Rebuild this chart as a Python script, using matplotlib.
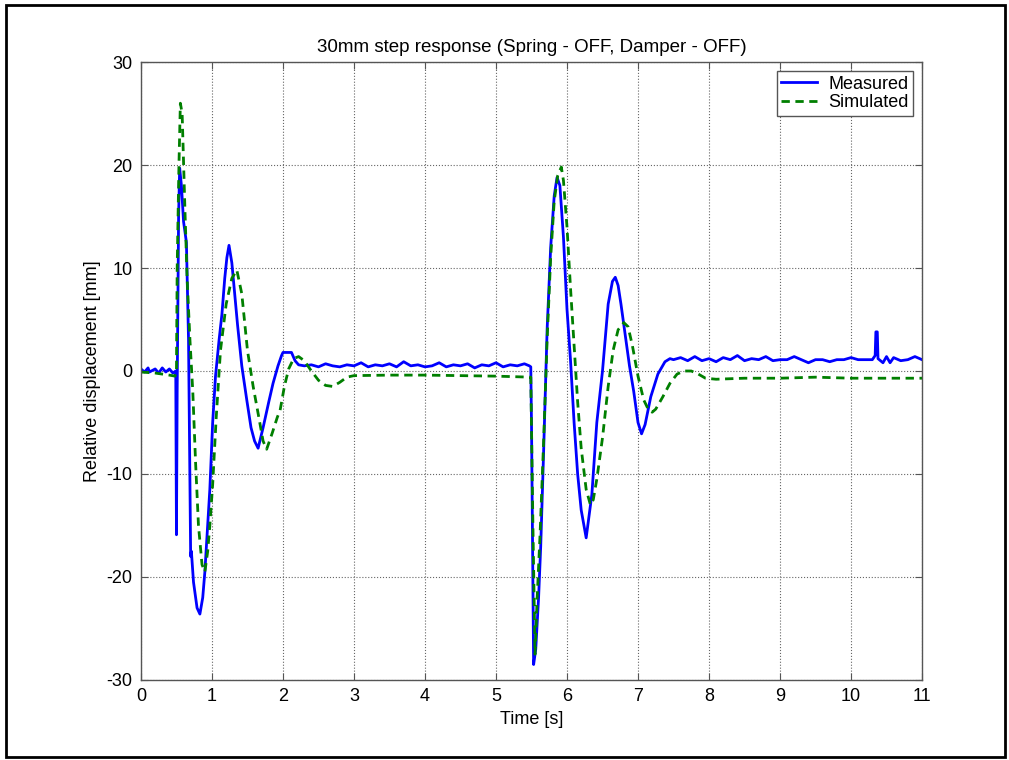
import matplotlib.pyplot as plt
from matplotlib.patches import Rectangle

plt.rcParams['font.family'] = ['Liberation Sans', 'DejaVu Sans']
plt.rcParams['axes.unicode_minus'] = False

meas_t = [0.00, 0.05, 0.10, 0.12, 0.20, 0.25, 0.30, 0.35, 0.40, 0.45, 0.49,
          0.50, 0.51, 0.53, 0.545, 0.57, 0.60, 0.64, 0.67, 0.70, 0.71, 0.74, 0.79, 0.83,
          0.87, 0.90, 0.93, 0.97, 1.01, 1.05, 1.10, 1.14, 1.18, 1.21, 1.24,
          1.28, 1.32, 1.36, 1.42, 1.49, 1.55, 1.60, 1.65,
          1.72, 1.80, 1.86, 1.93, 1.98, 2.00, 2.12, 2.17, 2.22,
          2.30, 2.40, 2.50, 2.60, 2.70, 2.80, 2.90, 3.00, 3.10, 3.20, 3.30, 3.40,
          3.50, 3.60, 3.70, 3.80, 3.90, 4.00, 4.10, 4.20, 4.30, 4.40, 4.50, 4.60,
          4.70, 4.80, 4.90, 5.00, 5.10, 5.20, 5.30, 5.40, 5.47,
          5.49, 5.50, 5.53, 5.56, 5.60, 5.63, 5.67, 5.72, 5.77, 5.82, 5.86,
          5.90, 5.95, 6.00, 6.05, 6.10, 6.15, 6.20, 6.27,
          6.35, 6.42, 6.50, 6.58, 6.64, 6.68, 6.72,
          6.76, 6.82, 6.88, 6.94, 7.00, 7.05, 7.10, 7.18, 7.28, 7.38, 7.45,
          7.50, 7.60, 7.70, 7.80, 7.90, 8.00, 8.10, 8.20, 8.30, 8.40, 8.50,
          8.60, 8.70, 8.80, 8.90, 9.00, 9.10, 9.20, 9.30, 9.40, 9.50, 9.60,
          9.70, 9.80, 9.90, 10.00, 10.10, 10.20, 10.30, 10.34, 10.35, 10.37,
          10.38, 10.45, 10.50, 10.55, 10.60, 10.70, 10.80, 10.90, 11.00]
meas_y = [0.2, -0.1, 0.3, -0.1, 0.2, -0.2, 0.3, -0.1, 0.2, -0.2, 0.0,
          -15.9, -2.0, 15.0, 19.7, 18.0, 14.5, 12.5, 3.0, -18.0, -17.5, -20.5, -23.0, -23.6,
          -22.0, -19.5, -16.0, -11.5, -5.0, -0.5, 3.0, 5.5, 9.0, 11.0, 12.2,
          10.5, 7.5, 4.5, 0.5, -2.8, -5.5, -6.8, -7.5,
          -5.5, -3.0, -1.2, 0.5, 1.5, 1.8, 1.8, 1.0, 0.6,
          0.5, 0.6, 0.4, 0.7, 0.5, 0.4, 0.6, 0.5, 0.8, 0.4, 0.6, 0.5,
          0.7, 0.4, 0.9, 0.5, 0.6, 0.4, 0.5, 0.8, 0.4, 0.6, 0.5, 0.7,
          0.3, 0.6, 0.5, 0.8, 0.4, 0.6, 0.5, 0.7, 0.5,
          0.4, -5.0, -28.5, -27.0, -22.0, -17.0, -8.0, 4.0, 12.0, 17.0, 18.8,
          18.0, 13.0, 6.0, 1.0, -5.0, -10.0, -13.5, -16.2,
          -12.0, -5.0, 0.0, 6.5, 8.7, 9.1, 8.3,
          6.5, 3.5, 0.5, -2.0, -5.0, -6.1, -5.2, -2.5, -0.3, 0.9, 1.2,
          1.1, 1.3, 1.0, 1.4, 1.0, 1.2, 0.9, 1.3, 1.1, 1.5, 1.0,
          1.2, 1.1, 1.4, 1.0, 1.1, 1.1, 1.4, 1.1, 0.8, 1.1, 1.1,
          0.9, 1.1, 1.1, 1.3, 1.1, 1.1, 1.1, 1.5, 3.8, 3.8,
          1.2, 0.8, 1.4, 0.8, 1.3, 1.0, 1.1, 1.4, 1.1]

# Simulated response
sim_t = [0.00, 0.20, 0.40, 0.48, 0.50, 0.51, 0.535, 0.555, 0.58, 0.62, 0.65, 0.69,
         0.73, 0.77, 0.81, 0.86, 0.90, 0.94, 0.97, 1.01, 1.06, 1.12, 1.20, 1.28,
         1.35, 1.42, 1.50, 1.58, 1.66, 1.72, 1.77, 1.85, 1.92, 1.96, 2.02, 2.08,
         2.15, 2.22, 2.30, 2.40, 2.50, 2.60, 2.70, 2.80, 2.90, 3.00, 3.50, 4.00,
         4.50, 5.00, 5.49,
         5.52, 5.55, 5.58, 5.62, 5.67, 5.72, 5.77, 5.82, 5.87, 5.92,
         5.95, 6.00, 6.05, 6.10, 6.15, 6.20, 6.27, 6.33, 6.37, 6.42, 6.50, 6.58,
         6.65, 6.72, 6.80, 6.86, 6.92, 7.00, 7.08, 7.15, 7.20, 7.25, 7.35, 7.45,
         7.55, 7.65, 7.75, 7.85, 7.95, 8.10, 8.50, 9.00, 9.50, 10.00, 10.50, 11.00]
sim_y = [-0.1, -0.2, -0.4, -0.5, 0.0, 10.0, 20.0, 26.0, 25.0, 15.5, 9.0, 3.0,
         -2.0, -9.0, -15.0, -18.8, -19.5, -17.5, -15.0, -11.0, -4.5, 2.0, 6.5, 9.0,
         9.8, 7.5, 2.0, -1.5, -4.5, -6.8, -7.6, -6.0, -4.5, -3.8, -1.5, 0.2,
         1.2, 1.4, 1.0, 0.0, -0.9, -1.4, -1.5, -1.1, -0.6, -0.45, -0.4, -0.4,
         -0.45, -0.5, -0.6,
         -15.0, -27.5, -22.0, -16.0, -7.0, 3.0, 11.0, 16.5, 19.0, 19.8,
         18.5, 14.0, 8.0, 2.5, -3.0, -7.5, -11.5, -13.0, -12.5, -10.5, -6.5, -1.5,
         2.0, 4.0, 4.7, 4.3, 2.5, -0.5, -2.8, -3.8, -4.0, -3.7, -2.5, -1.2,
         -0.3, 0.0, 0.0, -0.3, -0.7, -0.8, -0.7, -0.7, -0.6, -0.7, -0.7, -0.7]

x_ticks = list(range(0, 12))
y_ticks = [-30, -20, -10, 0, 10, 20, 30]

fig = plt.figure(figsize=(10.09, 7.6), dpi=100)
ax = fig.add_axes([0.1397, 0.1053, 0.7741, 0.8131])

ax.plot(meas_t, meas_y, color='#0000FF', lw=2.0, label='Measured')
ax.plot(sim_t, sim_y, color='#007F00', lw=2.0, ls=(0, (3, 2)), label='Simulated')

ax.set_xlim(0, 11)
ax.set_ylim(-30, 30)
ax.set_xticks(x_ticks)
ax.set_yticks(y_ticks)
ax.grid(True, color='#666666', ls=':', lw=0.8)
ax.tick_params(direction='in', top=True, right=True, length=5, labelsize=13,
               color='#555555', width=0.8, pad=6)
for sp in ax.spines.values():
    sp.set_color('#555555')
    sp.set_linewidth(1.0)

ax.set_title('30mm step response (Spring - OFF, Damper - OFF)', fontsize=13.5, pad=7)
ax.set_xlabel('Time [s]', fontsize=13, labelpad=4)
ax.set_ylabel('Relative displacement [mm]', fontsize=13, labelpad=4)

leg = ax.legend(loc='upper right', fontsize=13, fancybox=False, framealpha=1,
                edgecolor='#555555', handlelength=2.0, borderaxespad=0.5,
                labelspacing=0.1, borderpad=0.25, handletextpad=0.6)
leg.get_frame().set_linewidth(1.0)

# black frame around the whole figure
fig.patches.append(Rectangle((0.006, 0.004), 0.990, 0.990, transform=fig.transFigure,
                             fill=False, edgecolor='black', lw=2))

fig.savefig('out.png', dpi=100)
